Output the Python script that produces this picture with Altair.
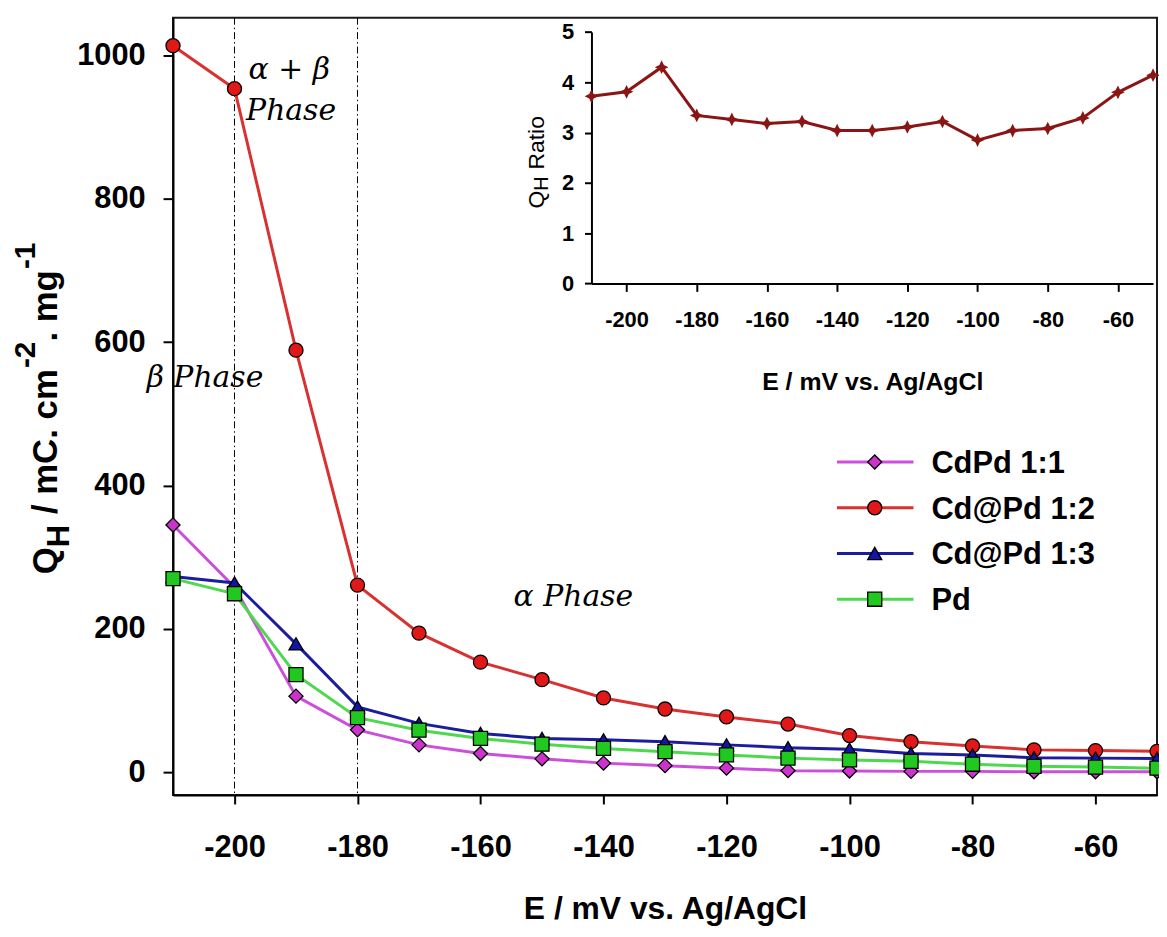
import altair as alt
import pandas as pd

# ---------------- data ----------------
E = [-210, -200, -190, -180, -170, -160, -150, -140, -130, -120, -110, -100, -90, -80, -70, -60, -50]
SERIES = ["CdPd 1:1", "Cd@Pd 1:2", "Cd@Pd 1:3", "Pd"]
CDPD_11 = [345, 258, 106, 59, 38, 26, 18.5, 12.5, 9, 5.5, 2, 1.5, 1, 1, 0.5, 0.5, 0.5]
CD_PD_12 = [1014, 954, 589, 261, 194, 153.5, 129, 103.5, 88, 77, 67, 51, 42.5, 36.5, 31, 30, 29]
CD_PD_13 = [273, 264, 179, 91, 68, 54, 47, 45, 42.5, 38, 34, 32, 26, 24, 20, 19.5, 19]
PD = [270, 249, 136, 76, 58.5, 47, 39, 33, 28.5, 24, 19.5, 17, 15, 11, 8, 7, 5.5]
RATIO = [3.72, 3.81, 4.30, 3.34, 3.26, 3.18, 3.22, 3.04, 3.04, 3.11, 3.22, 2.85, 3.04, 3.08, 3.29, 3.80, 4.14]

PHASE_BOUNDS = [-200, -180]
PHASE_LABELS = ["α + β", "Phase", "β Phase", "α Phase"]
PHASE_E = [-191.1, -190.8, -204.8, -144.9]
PHASE_Q = [967, 910, 537, 232]

X_TICKS = [-200, -180, -160, -140, -120, -100, -80, -60]
Y_TICKS = [0, 200, 400, 600, 800, 1000]
RATIO_TICKS = [0, 1, 2, 3, 4, 5]

X_TITLE = "E / mV vs. Ag/AgCl"
LEGEND_ROWS = [0, 1, 2, 3]

# ---------------- styles ----------------
LINE_COLORS = ["#CC4FDC", "#D93030", "#1C1C9E", "#4ED84E"]
MARKER_COLORS = ["#CC33CC", "#E01818", "#1414A8", "#20C820"]
SHAPES = ["diamond", "circle", "triangle-up", "square"]
INSET_COLOR = "#8B1515"
STAR = "M0,-1L0.33,-0.33L1,0L0.33,0.33L0,1L-0.33,0.33L-1,0L-0.33,-0.33Z"
SANS = "Liberation Sans"
SERIF = "DejaVu Serif"

W, H = 990, 782

values = {"CdPd 1:1": CDPD_11, "Cd@Pd 1:2": CD_PD_12, "Cd@Pd 1:3": CD_PD_13, "Pd": PD}
rows = []
for s in SERIES:
    for e, q in zip(E, values[s]):
        rows.append({"x": e, "y": q, "series": s})
df = pd.DataFrame(rows)

stroke_enc = alt.Stroke("series:N", scale=alt.Scale(domain=SERIES, range=LINE_COLORS), legend=None)
fill_enc = alt.Fill("series:N", scale=alt.Scale(domain=SERIES, range=MARKER_COLORS), legend=None)
shape_enc = alt.Shape("series:N", scale=alt.Scale(domain=SERIES, range=SHAPES), legend=None)

x_main = alt.X(
    "x:Q",
    scale=alt.Scale(domain=[-210, -50], nice=False, zero=False),
    axis=alt.Axis(values=X_TICKS, title=X_TITLE, labelExpr="'' + datum.value",
                  labelFontSize=31, tickSize=9, labelPadding=29,
                  titleFontSize=32, titlePadding=31, labelFlush=False),
)
y_main = alt.Y(
    "y:Q",
    scale=alt.Scale(domain=[-32, 1053], nice=False, zero=False),
    axis=alt.Axis(values=Y_TICKS, title=None, labelExpr="'' + datum.value",
                  labelFontSize=31, tickSize=10, labelPadding=18),
)

rules = alt.Chart(pd.DataFrame({"x": PHASE_BOUNDS})).mark_rule(
    color="black", strokeWidth=1, strokeDash=[7, 3, 1.5, 3]
).encode(x=x_main)

lines = alt.Chart(df).mark_line(strokeWidth=3).encode(x=x_main, y=y_main, stroke=stroke_enc)

points = alt.Chart(df).mark_point(
    filled=True, size=200, stroke="black", strokeWidth=1.3, opacity=1
).encode(x=x_main, y=y_main, fill=fill_enc, shape=shape_enc)

phase = alt.Chart(pd.DataFrame({"x": PHASE_E, "y": PHASE_Q, "t": PHASE_LABELS})).mark_text(
    font=SERIF, fontStyle="italic", fontSize=30, align="center", baseline="alphabetic", color="black"
).encode(x=x_main, y=y_main, text="t:N")

main = alt.layer(rules, lines, points, phase)

# ---------------- inset ----------------
idf = pd.DataFrame({"x": E, "r": RATIO})
x_in = alt.X(
    "x:Q",
    scale=alt.Scale(domain=[-210, -50], range=[421, 986], nice=False, zero=False),
    axis=alt.Axis(orient="bottom", offset=-514.7, values=X_TICKS, labelExpr="'' + datum.value",
                  title=X_TITLE, labelFontSize=22, tickSize=8, labelPadding=18,
                  titleFontSize=25, titlePadding=40, labelFlush=False),
)
y_in = alt.Y(
    "r:Q",
    scale=alt.Scale(domain=[0, 5], range=[267.3, 14.3], nice=False, zero=False),
    axis=alt.Axis(orient="left", offset=-421, values=RATIO_TICKS, title=None,
                  labelFontSize=22, tickSize=7, labelPadding=11),
)
inset_line = alt.Chart(idf).mark_line(color=INSET_COLOR, strokeWidth=3).encode(x=x_in, y=y_in)
inset_pts = alt.Chart(idf).mark_point(
    shape=STAR, filled=True, size=190, color=INSET_COLOR, opacity=1
).encode(x=x_in, y=y_in)
inset = alt.layer(inset_line, inset_pts)

# ---------------- legend ----------------
ldf = pd.DataFrame({"series": SERIES, "row": LEGEND_ROWS})
y_leg = alt.Y("row:Q", scale=alt.Scale(domain=[0, 3], range=[447, 585], nice=False, zero=False), axis=None)
leg_lines = alt.Chart(ldf).mark_rule(strokeWidth=3).encode(
    x=alt.value(668), x2=alt.value(745), y=y_leg, stroke=stroke_enc)
leg_pts = alt.Chart(ldf).mark_point(
    filled=True, size=200, stroke="black", strokeWidth=1.3, opacity=1
).encode(x=alt.value(706), y=y_leg, fill=fill_enc, shape=shape_enc)
leg_text = alt.Chart(ldf).mark_text(
    align="left", baseline="middle", dy=2, font=SANS, fontWeight="bold", fontSize=31, color="black"
).encode(x=alt.value(763), y=y_leg, text="series:N")
legend = alt.layer(leg_lines, leg_pts, leg_text)

# ---------------- rotated y titles with sub/superscripts ----------------
BOLD_W = {'Q': 778, 'H': 722, ' ': 278, '/': 278, 'm': 889, 'C': 722, '.': 278,
          'c': 556, '-': 333, '2': 556, 'g': 611, '1': 556}
REG_W = {'Q': 778, 'H': 722, ' ': 278, 'R': 722, 'a': 556, 't': 278, 'i': 222, 'o': 556}


def text_w(s, size, table):
    return sum(table.get(ch, 556) for ch in s) * size / 1000.0


def rotated_title(pieces, x0, y0, weight, table):
    layers = []
    y = y0
    for txt, size, dx, gap in pieces:
        y -= gap
        layers.append(
            alt.Chart(pd.DataFrame({"t": [txt]})).mark_text(
                text=txt, angle=270, align="left", baseline="alphabetic",
                font=SANS, fontWeight=weight, fontSize=size, color="black"
            ).encode(x=alt.value(x0 + dx), y=alt.value(y))
        )
        y -= text_w(txt, size, table)
    return layers


main_title = rotated_title(
    [("Q", 35, 0, 0), ("H", 31, 12, 0), ("/ mC. cm", 35, 0, 11), ("-2", 30, -22, 1),
     (". mg", 35, 0, 0), ("-1", 30, -22, 1)],
    -117, 560, "bold", BOLD_W)
inset_title = rotated_title(
    [("Q", 23, 0, 0), ("H", 20, 4, 0), ("Ratio", 23, 0, 7)],
    373, 192, "normal", REG_W)

chart = alt.layer(main, inset, legend, *main_title, *inset_title).resolve_scale(
    x="independent", y="independent"
).properties(
    width=W, height=H,
    padding={"left": 166, "top": 7, "right": 2, "bottom": 132},
    autosize=alt.AutoSizeParams(type="none"),
    background="white",
).configure_view(
    stroke="#1a1a1a", strokeWidth=2
).configure_axis(
    grid=False, domainColor="black", domainWidth=2, tickColor="black", tickWidth=2,
    labelColor="black", labelFont=SANS, labelFontWeight="bold",
    titleFont=SANS, titleFontWeight="bold", titleColor="black",
)

chart.save("out.html", embed_options={"renderer": "svg", "actions": False})
